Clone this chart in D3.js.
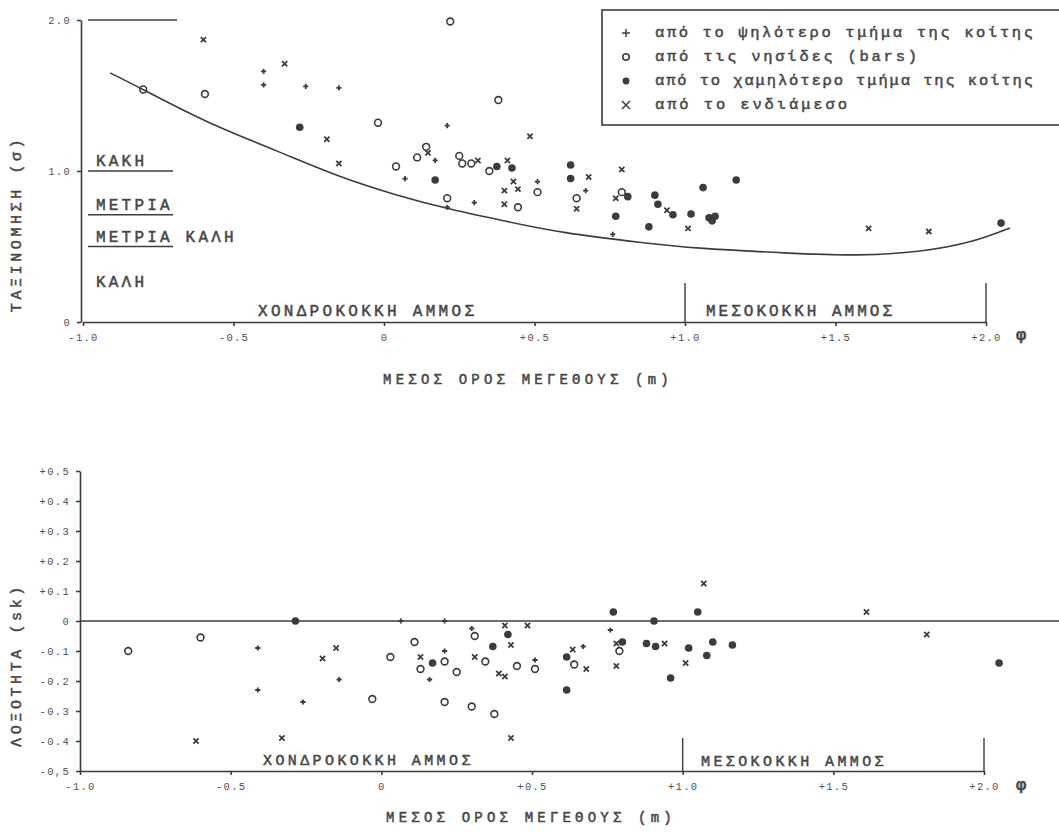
<!DOCTYPE html>
<html>
<head>
<meta charset="utf-8">
<script src="https://cdn.jsdelivr.net/npm/d3@7"></script>
<style>
  body { margin: 0; background: #fff; }
  svg { display: block; }
  text { font-family: 'Liberation Mono', 'DejaVu Sans Mono', monospace; fill: #474747; }
</style>
</head>
<body>
<svg id="chart" width="1059" height="832"></svg>
<script>
// x axis (mean size, phi) shared by both panels
const xTicks = [-1.0, -0.5, 0, 0.5, 1.0, 1.5, 2.0];
const xTickLabels = ['-1.0', '-0.5', '0', '+0.5', '+1.0', '+1.5', '+2.0'];

// top panel: sorting (sigma)
const sortTicks = [0, 1, 2];
const sortTickLabels = ['0', '1.0', '2.0'];
const sortClassBounds = [2.0, 1.0, 0.71, 0.5];
const sortClassLabels = ['ΚΑΚΗ', 'ΜΕΤΡΙΑ', 'ΜΕΤΡΙΑ ΚΑΛΗ', 'ΚΑΛΗ'];
const sandBounds = [1.0, 2.0];
const sandLabels = ['ΧΟΝΔΡΟΚΟΚΚΗ ΑΜΜΟΣ', 'ΜΕΣΟΚΟΚΚΗ ΑΜΜΟΣ'];

// fitted curve
const sortCurve = [[-0.91, 1.65], [-0.80, 1.54], [-0.59, 1.32], [-0.35, 1.13], [-0.15, 0.96],
  [0.04, 0.84], [0.21, 0.75], [0.375, 0.68], [0.585, 0.59], [0.88, 0.52], [1.02, 0.49],
  [1.35, 0.455], [1.57, 0.437], [1.79, 0.464], [1.96, 0.53], [2.08, 0.623]];

// [mean, sigma]
const topPlus = [[-0.40, 1.66], [-0.40, 1.57], [-0.26, 1.56], [-0.15, 1.55], [0.21, 1.30], [0.17, 1.07],
  [0.07, 0.95], [0.30, 0.79], [0.51, 0.93], [0.21, 0.76], [0.67, 0.87], [0.76, 0.58]];
const topOpen = [[-0.80, 1.54], [-0.595, 1.51], [0.22, 1.99], [0.38, 1.47], [-0.02, 1.32], [0.04, 1.03],
  [0.11, 1.09], [0.14, 1.16], [0.25, 1.10], [0.26, 1.05], [0.29, 1.05], [0.35, 1.00], [0.21, 0.82],
  [0.445, 0.76], [0.51, 0.86], [0.64, 0.82], [0.79, 0.86]];
const topFilled = [[-0.28, 1.29], [0.17, 0.94], [0.375, 1.03], [0.425, 1.02], [0.62, 1.04], [0.62, 0.95],
  [0.81, 0.83], [0.77, 0.70], [0.88, 0.63], [0.90, 0.84], [0.91, 0.78], [0.96, 0.71], [1.02, 0.715],
  [1.06, 0.89], [1.08, 0.69], [1.10, 0.70], [1.09, 0.67], [1.17, 0.94], [2.05, 0.655]];
const topCross = [[-0.60, 1.87], [-0.33, 1.71], [-0.19, 1.21], [-0.15, 1.05], [0.485, 1.23], [0.146, 1.12],
  [0.312, 1.07], [0.41, 1.07], [0.43, 0.93], [0.40, 0.87], [0.445, 0.88], [0.40, 0.78], [0.68, 0.96],
  [0.79, 1.01], [0.64, 0.75], [0.77, 0.82], [0.94, 0.74], [1.01, 0.62], [1.61, 0.62], [1.81, 0.60]];

// bottom panel: skewness (sk)
const skewTicks = [-0.5, -0.4, -0.3, -0.2, -0.1, 0, 0.1, 0.2, 0.3, 0.4, 0.5];
const skewTickLabels = ['-0,5', '-0.4', '-0.3', '-0.2', '-0.1', '0', '+0.1', '+0.2', '+0.3', '+0.4', '+0.5'];

// [mean, sk]
const botPlus = [[-0.41, -0.09], [-0.41, -0.23], [-0.26, -0.27], [-0.14, -0.195], [0.065, 0.0], [0.21, 0.0],
  [0.30, -0.025], [0.21, -0.10], [0.16, -0.195], [0.51, -0.13], [0.67, -0.085], [0.76, -0.03]];
const botOpen = [[-0.84, -0.10], [-0.60, -0.055], [-0.03, -0.26], [0.31, -0.05], [0.11, -0.07], [0.03, -0.12],
  [0.13, -0.16], [0.21, -0.135], [0.25, -0.17], [0.345, -0.135], [0.45, -0.15], [0.51, -0.16], [0.21, -0.27],
  [0.30, -0.285], [0.375, -0.31], [0.64, -0.145], [0.79, -0.10]];
const botFilled = [[-0.285, 0.0], [0.42, -0.045], [0.37, -0.085], [0.17, -0.14], [0.615, -0.12], [0.615, -0.23],
  [0.77, 0.03], [0.905, 0.0], [1.05, 0.03], [0.80, -0.07], [0.88, -0.075], [0.91, -0.085], [1.02, -0.09],
  [1.10, -0.07], [1.08, -0.115], [1.165, -0.08], [0.96, -0.19], [2.05, -0.14]];
const botCross = [[-0.15, -0.09], [-0.195, -0.125], [-0.615, -0.40], [-0.33, -0.39], [0.41, -0.015],
  [0.485, -0.015], [0.43, -0.08], [0.13, -0.12], [0.31, -0.12], [0.39, -0.175], [0.41, -0.185], [0.43, -0.39],
  [0.635, -0.095], [0.68, -0.16], [1.07, 0.125], [0.78, -0.075], [0.78, -0.15], [0.94, -0.075], [1.01, -0.14],
  [1.61, 0.03], [1.81, -0.045]];

const legendLabels = [
  'από το ψηλότερο τμήμα της κοίτης',
  'από τις νησίδες (bars)',
  'από το χαμηλότερο τμήμα της κοίτης',
  'από το ενδιάμεσο'
];
const legendKinds = ['plus', 'open', 'filled', 'cross'];

const INK = '#3c3c3c';
const svg = d3.select('#chart');

const xTop = d3.scaleLinear().domain([-1, 2]).range([83, 986]);
const yTop = d3.scaleLinear().domain([0, 2]).range([322, 20]);
const xBot = d3.scaleLinear().domain([-1, 2]).range([80, 984]);
const yBot = d3.scaleLinear().domain([-0.5, 0.5]).range([771, 471]);

const styleAxis = (g, fs) => {
  g.selectAll('path, line').attr('stroke', INK).attr('stroke-width', 1.6);
  g.selectAll('text').attr('font-size', fs).attr('letter-spacing', 1.3)
    .style('fill', '#505050').attr('font-family', "'DejaVu Sans Mono', monospace");
};

const drawMarks = (g, data, kind, x, y, big) => {
  const s = big ? 4 : 2.6;
  const sel = g.selectAll(null).data(data).enter();
  if (kind === 'open') {
    sel.append('circle').attr('cx', d => x(d[0])).attr('cy', d => y(d[1]))
      .attr('r', big ? 3.2 : 3.4).attr('fill', 'none').attr('stroke', INK).attr('stroke-width', 1.6);
  } else if (kind === 'filled') {
    sel.append('circle').attr('cx', d => x(d[0])).attr('cy', d => y(d[1]))
      .attr('r', big ? 3.4 : 3.8).attr('fill', INK);
  } else {
    sel.append('path')
      .attr('d', d => {
        const cx = x(d[0]), cy = y(d[1]);
        return kind === 'plus'
          ? `M${cx - s},${cy}H${cx + s}M${cx},${cy - s}V${cy + s}`
          : `M${cx - s},${cy - s}L${cx + s},${cy + s}M${cx - s},${cy + s}L${cx + s},${cy - s}`;
      })
      .attr('stroke', INK).attr('stroke-width', big ? 1.5 : 1.8).attr('fill', 'none');
  }
};

const bigText = (g, str, x, y, opts = {}) =>
  g.append('text').attr('x', x).attr('y', y).attr('font-size', opts.fs || 15)
    .attr('letter-spacing', opts.ls != null ? opts.ls : 3.6)
    .attr('text-anchor', opts.anchor || 'start')
    .attr('stroke', '#474747').attr('stroke-width', 0.5)
    .text(str);

// ---------------- top panel ----------------
const topPanel = svg.append('g');

topPanel.append('g').attr('transform', 'translate(0,322)')
  .call(d3.axisBottom(xTop).tickValues(xTicks).tickFormat((d, i) => xTickLabels[i]).tickSize(4).tickSizeOuter(0).tickPadding(8))
  .call(g => styleAxis(g, 10.5));
topPanel.append('g').attr('transform', 'translate(81,0)')
  .call(d3.axisLeft(yTop).tickValues(sortTicks).tickFormat((d, i) => sortTickLabels[i]).tickSize(4).tickSizeOuter(0).tickPadding(6))
  .call(g => styleAxis(g, 10.5));

// sorting class boundaries
sortClassBounds.forEach(b => {
  topPanel.append('line').attr('x1', 88).attr('x2', b === 2 ? 177 : 173)
    .attr('y1', yTop(b)).attr('y2', yTop(b)).attr('stroke', INK).attr('stroke-width', 1.6);
});
sortClassLabels.forEach((t, i) => {
  const yy = i < 3 ? yTop(sortClassBounds[i + 1]) - 5 : 287;
  bigText(topPanel, t, 96, yy, { fs: 16, ls: 3.2 });
});

// sand class dividers
sandBounds.forEach(b => {
  topPanel.append('line').attr('x1', xTop(b)).attr('x2', xTop(b)).attr('y1', 283).attr('y2', 322)
    .attr('stroke', INK).attr('stroke-width', 1.4);
});
bigText(topPanel, sandLabels[0], 258, 316, { fs: 16, ls: 3.3 });
bigText(topPanel, sandLabels[1], 706, 316, { fs: 16, ls: 3.0 });

topPanel.append('path').datum(sortCurve)
  .attr('d', d3.line().x(d => xTop(d[0])).y(d => yTop(d[1])).curve(d3.curveBasis))
  .attr('fill', 'none').attr('stroke', INK).attr('stroke-width', 1.6);

const topPts = topPanel.append('g');
drawMarks(topPts, topOpen, 'open', xTop, yTop);
drawMarks(topPts, topFilled, 'filled', xTop, yTop);
drawMarks(topPts, topPlus, 'plus', xTop, yTop);
drawMarks(topPts, topCross, 'cross', xTop, yTop);

bigText(topPanel, 'φ', 1021, 340, { fs: 17, ls: 0, anchor: 'middle' }).attr('font-weight', 'bold');
bigText(topPanel, 'ΤΑΞΙΝΟΜΗΣΗ (σ)', 0, 0, { fs: 15, ls: 3.6, anchor: 'middle' })
  .attr('transform', 'translate(21,224) rotate(-90)');
bigText(topPanel, 'ΜΕΣΟΣ ΟΡΟΣ ΜΕΓΕΘΟΥΣ (m)', 528, 384, { fs: 14, ls: 4.2, anchor: 'middle' });

// legend
const leg = svg.append('g');
leg.append('rect').attr('x', 602).attr('y', 10).attr('width', 470).attr('height', 115)
  .attr('fill', 'none').attr('stroke', INK).attr('stroke-width', 1.6);
const legW = [378, 262, 378, 192];
legendLabels.forEach((t, i) => {
  const yy = 33 + i * 24;
  drawMarks(leg, [[0, yy]], legendKinds[i], () => 626, v => v, true);
  bigText(leg, t, 655, yy + 4, { fs: 15.5, ls: 0 })
    .attr('textLength', legW[i]).attr('lengthAdjust', 'spacing');
});

// ---------------- bottom panel ----------------
const botPanel = svg.append('g');

botPanel.append('g').attr('transform', 'translate(0,771)')
  .call(d3.axisBottom(xBot).tickValues(xTicks).tickFormat((d, i) => xTickLabels[i]).tickSize(4).tickSizeOuter(0).tickPadding(8))
  .call(g => styleAxis(g, 10.5));
botPanel.append('g').attr('transform', 'translate(80,0)')
  .call(d3.axisLeft(yBot).tickValues(skewTicks).tickFormat((d, i) => skewTickLabels[i]).tickSize(4).tickSizeOuter(0).tickPadding(6))
  .call(g => styleAxis(g, 10.5));

botPanel.append('line').attr('x1', 80).attr('x2', 1059).attr('y1', yBot(0)).attr('y2', yBot(0))
  .attr('stroke', INK).attr('stroke-width', 1.6);

sandBounds.forEach(b => {
  botPanel.append('line').attr('x1', xBot(b)).attr('x2', xBot(b)).attr('y1', 738).attr('y2', 771)
    .attr('stroke', INK).attr('stroke-width', 1.4);
});
bigText(botPanel, sandLabels[0], 263, 765, { fs: 15, ls: 3.4 });
bigText(botPanel, sandLabels[1], 701, 766, { fs: 15, ls: 3.4 });

const botPts = botPanel.append('g');
drawMarks(botPts, botOpen, 'open', xBot, yBot);
drawMarks(botPts, botFilled, 'filled', xBot, yBot);
drawMarks(botPts, botPlus, 'plus', xBot, yBot);
drawMarks(botPts, botCross, 'cross', xBot, yBot);

bigText(botPanel, 'φ', 1021, 790, { fs: 17, ls: 0, anchor: 'middle' }).attr('font-weight', 'bold');
bigText(botPanel, 'ΛΟΞΟΤΗΤΑ (sk)', 0, 0, { fs: 15, ls: 3.6, anchor: 'middle' })
  .attr('transform', 'translate(21,665) rotate(-90)');
bigText(botPanel, 'ΜΕΣΟΣ ΟΡΟΣ ΜΕΓΕΘΟΥΣ (m)', 531, 822, { fs: 14, ls: 4.2, anchor: 'middle' });
</script>
</body>
</html>
